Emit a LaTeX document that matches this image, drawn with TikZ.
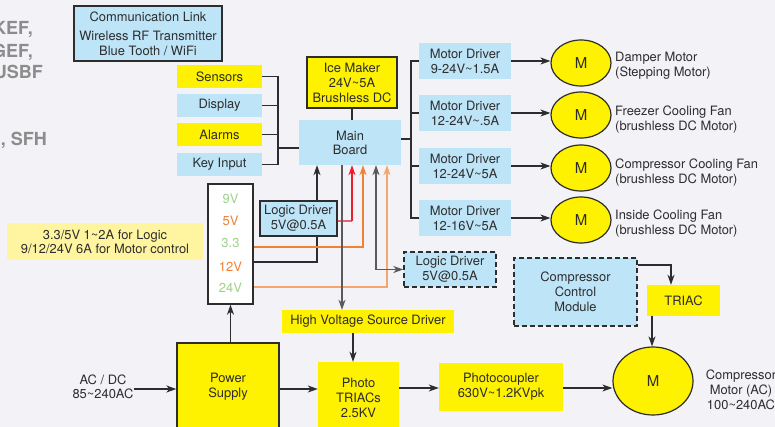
\documentclass[tikz,border=0pt]{standalone}
\usepackage{fontspec}
\setmainfont{TeX Gyre Heros}
\usetikzlibrary{arrows.meta,shapes.geometric}
\newcommand{\mytilde}{\textasciitilde}
\definecolor{bg}{RGB}{242,242,247}
\definecolor{ylw}{RGB}{255,242,0}
\definecolor{lblue}{RGB}{190,228,248}
\definecolor{pyel}{RGB}{255,245,160}
\definecolor{txt}{RGB}{45,45,45}
\definecolor{ln}{RGB}{45,45,45}
\definecolor{gtxt}{RGB}{140,140,140}
\definecolor{vgreen}{RGB}{160,210,140}
\definecolor{vorange}{RGB}{240,130,55}
\definecolor{lorange}{RGB}{245,165,110}
\definecolor{vred}{RGB}{235,30,45}
\definecolor{pinkred}{RGB}{232,100,115}
\definecolor{dgray}{RGB}{90,90,90}
\begin{document}
\begin{tikzpicture}[x=1pt,y=-1pt,
  every node/.style={font=\fontsize{12.9}{15}\selectfont, text=txt, align=center, inner sep=0pt},
  ybox/.style={rectangle, fill=ylw},
  bbox/.style={rectangle, fill=lblue},
  bord/.style={draw=ln, line width=1.4pt},
  dbord/.style={draw=ln, line width=1.4pt, dash pattern=on 5pt off 3pt},
  conn/.style={draw=ln, line width=1.2pt},
  arr/.style={-{Stealth[length=10pt,width=7pt,inset=3pt]}},
  darr/.style={{Stealth[length=10pt,width=7pt,inset=3pt]}-{Stealth[length=10pt,width=7pt,inset=3pt]}},
  motor/.style={ellipse, fill=ylw, draw=ln, line width=1.2pt, font=\fontsize{15}{17}\selectfont},
  gray/.style={font=\fontsize{18}{20}\bfseries, text=gtxt, anchor=east},
  vlab/.style={font=\fontsize{13}{15}\selectfont}
]
\useasboundingbox (0,0) rectangle (775,427);
\fill[bg] (0,0) rectangle (775,427);

% gray cut-off text
\node[gray] (g1) at (33,30) {KEF,};
\node[gray] (g2) at (33,52) {GEF,};
\node[gray] (g3) at (43,72) {USBF};
\node[gray] (g4) at (47,140) {, SFH};

% communication link
\node[bbox, bord, minimum width=148, minimum height=55] (com) at (148,33.5)
  {Communication Link\\[4pt]Wireless RF Transmitter\\Blue Tooth / WiFi};

% left column
\node[ybox, minimum width=85, minimum height=23] (sen) at (219.5,76.5) {Sensors};
\node[bbox, minimum width=85, minimum height=23] (dis) at (219.5,105.5) {Display};
\node[ybox, minimum width=85, minimum height=23] (alm) at (219.5,134.5) {Alarms};
\node[bbox, minimum width=85, minimum height=23] (key) at (219.5,164.5) {Key Input};

% main board & ice maker
\node[bbox, minimum width=102, minimum height=45] (mb) at (350,142.5) {Main\\[-1pt]Board};
\node[ybox, bord, minimum width=90, minimum height=51] (ice) at (352,82.5) {Ice Maker\\24V\mytilde5A\\Brushless DC};

\coordinate (bx) at (278,148);
\draw[conn] (sen.east) -| (bx);
\draw[conn] (key.east) -| (bx);
\draw[conn] (dis.east) -- (dis.east -| bx);
\draw[conn] (alm.east) -- (alm.east -| bx);
\draw[conn] (bx) -- (bx -| mb.west);
\draw[conn] (ice.south) -- (ice.south |- mb.north);

% motor drivers
\node[bbox, minimum width=92, minimum height=36] (md1) at (465,61) {Motor Driver\\9-24V\mytilde1.5A};
\node[bbox, minimum width=92, minimum height=36] (md2) at (465,113) {Motor Driver\\12-24V\mytilde.5A};
\node[bbox, minimum width=92, minimum height=36] (md3) at (465,166) {Motor Driver\\12-24V\mytilde5A};
\node[bbox, minimum width=92, minimum height=36] (md4) at (465,218) {Motor Driver\\12-16V\mytilde5A};
\coordinate (mx) at (411,139);
\draw[conn] (mb.east |- mx) -- (mx);
\draw[conn] (md1.west) -| (mx);
\draw[conn] (md4.west) -| (mx);
\draw[conn] (md2.west) -- (md2.west -| mx);
\draw[conn] (md3.west) -- (md3.west -| mx);

% motors
\node[motor, minimum width=60, minimum height=46] (m1) at (581,63) {M};
\node[motor, minimum width=60, minimum height=46] (m2) at (581,115) {M};
\node[motor, minimum width=60, minimum height=46] (m3) at (581,168) {M};
\node[motor, minimum width=60, minimum height=46] (m4) at (581,220) {M};
\draw[conn, arr] (md1.east) -- (md1.east -| m1.west);
\draw[conn, arr] (md2.east) -- (md2.east -| m2.west);
\draw[conn, arr] (md3.east) -- (md3.east -| m3.west);
\draw[conn, arr] (md4.east) -- (md4.east -| m4.west);
\node[anchor=west, align=left] (l1) at (615,65.5) {Damper Motor\\(Stepping Motor)};
\node[anchor=west, align=left] (l2) at (615,119.5) {Freezer Cooling Fan\\(brushless DC Motor)};
\node[anchor=west, align=left] (l3) at (615,172.5) {Compressor Cooling Fan\\(brushless DC Motor)};
\node[anchor=west, align=left] (l4) at (615,223.5) {Inside Cooling Fan\\(brushless DC Motor)};

% voltage box
\node[rectangle, fill=white, bord, minimum width=45, minimum height=120] (vbox) at (230.5,244) {};
\node[vlab, text=vgreen] (v9) at (230.5,199) {9V};
\node[vlab, text=vorange] (v5) at (230.5,221) {5V};
\node[vlab, text=vgreen] (v33) at (230.5,243) {3.3};
\node[vlab, text=vorange] (v12) at (230.5,267) {12V};
\node[vlab, text=vgreen] (v24) at (230.5,288) {24V};

% note
\node[rectangle, fill=pyel, minimum width=196, minimum height=37] (note) at (105,241.5)
  {3.3/5V 1\mytilde2A for Logic\\[-1pt]9/12/24V 6A for Motor control};

% logic drivers
\node[bbox, bord, minimum width=77, minimum height=35] (ld) at (298.5,218.5) {Logic Driver\\5V@0.5A};
\node[bbox, dbord, minimum width=92, minimum height=35] (ld2) at (450,269.5) {Logic Driver\\5V@0.5A};

% connections to main board
\draw[conn, arr] (317,0 |- ld.north) -- (317,0 |- mb.south);
\draw[conn] (vbox.east |- 0,262) -| (317,0 |- ld.south);
\draw[line width=1.2pt, draw=pinkred] (ld.east |- 0,221) -- (352,221);
\draw[line width=1.2pt, draw=vred, arr] (352,221) -- (352,0 |- mb.south);
\draw[line width=1.2pt, draw=vorange, arr] (vbox.east |- 0,247) -| (363,0 |- mb.south);
\draw[line width=1.2pt, draw=lorange, arr] (vbox.east |- 0,287) -| (387,0 |- mb.south);
\draw[line width=1.2pt, draw=dgray, darr] (376,0 |- mb.south) |- (ld2.west);

% high voltage
\node[ybox, minimum width=172, minimum height=23] (hv) at (368,321.5) {High Voltage Source Driver};
\draw[line width=1.2pt, draw=dgray, arr] (342,0 |- mb.south) -- (342,0 |- hv.north);

\node[ybox, minimum width=81, minimum height=72] (pt) at (358.5,398) {Photo\\TRIACs\\2.5KV};
\node[ybox, minimum width=124, minimum height=48] (pc) at (501,387) {Photocoupler\\630V\mytilde1.2KVpk};
\node[motor, minimum width=80, minimum height=68] (cm) at (653,381) {M};
\node (cml) at (741,390) {Compressor\\Motor (AC)\\100\mytilde240AC};
\draw[conn, arr] (353,0 |- hv.south) -- (353,0 |- pt.north);

% compressor control
\node[bbox, dbord, minimum width=123, minimum height=68] (ccm) at (575.5,292) {Compressor\\Control\\Module};
\node[ybox, minimum width=73, minimum height=31] (tr) at (683.5,300.5) {TRIAC};
\draw[conn, arr] (ccm.east |- 0,265) -| (671,0 |- tr.north);
\draw[conn, arr] (652,0 |- tr.south) -- (652,0 |- cm.north);

% power supply
\node[ybox, bord, minimum width=102, minimum height=92] (ps) at (228,389) {};
\node (pst) at (228,386.5) {Power\\Supply};
\node (acdc) at (103,387) {AC / DC\\[-1pt]85\mytilde240AC};
\draw[conn, arr] (vbox.south |- ps.north) -- (vbox.south);
\draw[conn, arr] (acdc.east |- 0,389) -- (ps.west |- 0,389);
\draw[conn, arr] (ps.east |- 0,389) -- (pt.west |- 0,389);
\draw[conn, arr] (pt.east |- 0,388) -- (pc.west |- 0,388);
\draw[conn, arr] (pc.east |- 0,388) -- (cm.west |- 0,388);
\end{tikzpicture}
\end{document}
